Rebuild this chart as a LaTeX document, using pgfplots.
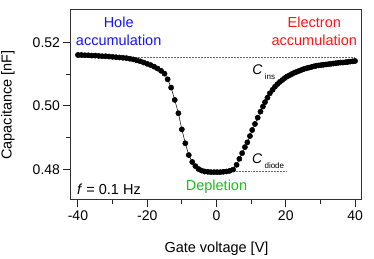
\documentclass[border=0pt]{standalone}
\usepackage{pgfplots}
\pgfplotsset{compat=1.18}
\usepackage{pgfplotstable}
\usepackage{fontspec}
\setmainfont{Liberation Sans}
\definecolor{holeblue}{RGB}{20,20,255}
\definecolor{elred}{RGB}{255,20,20}
\definecolor{depgreen}{RGB}{30,190,30}
\pgfplotstableread{
x y
-40 0.5161
-39 0.5161
-38 0.5160
-37 0.5160
-36 0.5159
-35 0.5159
-34 0.5158
-33 0.5157
-32 0.5157
-31 0.5156
-30 0.5155
-29 0.5154
-28 0.5153
-27 0.5152
-26 0.5151
-25 0.5149
-24 0.5147
-23 0.5144
-22 0.5141
-21 0.5137
-20 0.5133
-19 0.5129
-18 0.5124
-17 0.5118
-16 0.5111
-15 0.5102
-14.1 0.5084
-13.1 0.5058
-12.05 0.5019
-11.0 0.4977
-10.0 0.4926
-9.0 0.4882
-8.0 0.4845
-7.0 0.4823
-6.1 0.4810
-5.2 0.4801
-4.3 0.4796
-3.4 0.4793
-2.5 0.4792
-1.6 0.4791
-0.7 0.4791
0.2 0.4791
1.1 0.4791
2.0 0.4792
2.9 0.4793
3.8 0.4795
4.8 0.4799
5.8 0.4814
6.6 0.4833
7.4 0.4851
8.2 0.4870
8.9 0.4885
9.65 0.4905
10.3 0.4924
11.1 0.4943
11.9 0.4963
12.7 0.4982
13.4 0.4998
14.0 0.5012
14.7 0.5026
15.4 0.5040
16.2 0.5051
16.9 0.5061
17.6 0.5069
18.3 0.5076
19.0 0.5082
19.7 0.5088
20.4 0.5093
21.1 0.5097
21.8 0.5101
22.5 0.5105
23.2 0.5108
23.9 0.5111
24.6 0.5114
25.3 0.5117
26.0 0.5119
26.7 0.5121
27.4 0.5123
28.1 0.5125
28.8 0.5127
29.5 0.5128
30.2 0.5129
30.9 0.5130
31.6 0.5131
32.3 0.5132
33.0 0.5133
33.7 0.5134
34.4 0.5135
35.1 0.5136
35.8 0.5137
36.5 0.5137
37.2 0.5138
37.9 0.5139
38.6 0.5140
39.3 0.5141
40.0 0.5142
}\cv
\begin{document}
\begin{tikzpicture}
\useasboundingbox (0,0) rectangle (374pt,259pt);
\begin{axis}[
  at={(71pt,59pt)}, anchor=south west,
  scale only axis, width=291pt, height=190pt,
  xmin=-42, xmax=42, ymin=0.4703, ymax=0.5303,
  xtick={-40,-20,0,20,40}, xticklabels={-40,-20,0,20,40},
  minor xtick={-30,-10,10,30},
  ytick={0.48,0.50,0.52}, yticklabels={0.48,0.50,0.52},
  minor ytick={0.49,0.51},
  xtick pos=bottom, ytick pos=left,
  tick align=outside,
  major tick length=7.5pt, minor tick length=4.5pt,
  every tick/.style={black!85, line width=0.9pt},
  axis line style={line width=1pt, black!80},
  tick label style={font=\fontsize{14}{16}\selectfont},
  label style={font=\fontsize{14.5}{17}\selectfont},
  xlabel={Gate voltage [V]},
  ylabel={Capacitance [nF]},
  xlabel style={at={(axis description cs:0.5,-0.277)}, anchor=base},
  ylabel style={at={(axis description cs:-0.204,0.5)}, anchor=base},
  clip=false,
]
\addplot[densely dotted, line width=0.5pt, black!60, forget plot] coordinates {(-40,0.5155) (40,0.5155)};
\addplot[densely dotted, line width=0.5pt, black!60, forget plot] coordinates {(0,0.4795) (20,0.4795)};
\addplot[black, line width=0.5pt, mark=*, mark size=2.6pt, mark options={solid, fill=black}] table[x=x,y=y] {\cv};
\node[anchor=base, text=holeblue, font=\fontsize{14.5}{17}\selectfont] at (axis cs:-28.24,0.52486) {Hole};
\node[anchor=base, text=holeblue, font=\fontsize{14.5}{17}\selectfont] at (axis cs:-28.24,0.51896) {accumulation};
\node[anchor=base, text=elred, font=\fontsize{14.5}{17}\selectfont] at (axis cs:28.24,0.52486) {Electron};
\node[anchor=base, text=elred, font=\fontsize{14.5}{17}\selectfont] at (axis cs:28.24,0.51896) {accumulation};
\node[anchor=base, text=depgreen, font=\fontsize{14.5}{17}\selectfont] at (axis cs:0,0.47324) {Depletion};
\node[anchor=base west, inner sep=0pt, font=\fontsize{14.5}{17}\selectfont] at (axis cs:-40.3,0.47188) {\textit{f} = 0.1 Hz};
\node[anchor=base west, inner sep=0pt, font=\fontsize{14}{15}\selectfont] at (axis cs:10.3,0.5098) {\textit{C}\,\raisebox{-5pt}{\fontsize{8}{9}\selectfont ins}};
\node[anchor=base west, inner sep=0pt, font=\fontsize{14}{15}\selectfont] at (axis cs:10.2,0.48167) {\textit{C}\,\raisebox{-5pt}{\fontsize{8}{9}\selectfont diode}};
\end{axis}
\end{tikzpicture}
\end{document}
